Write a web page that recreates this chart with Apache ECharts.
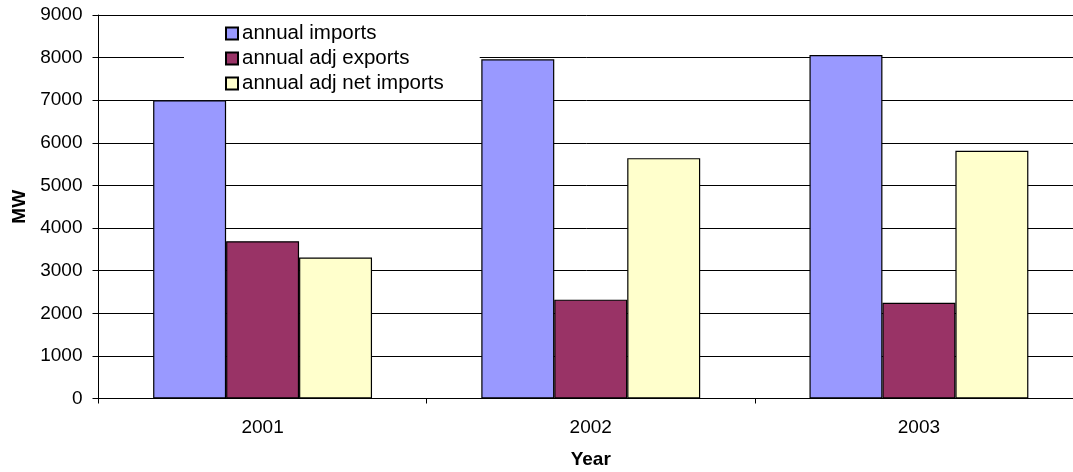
<!DOCTYPE html>
<html>
<head>
<meta charset="utf-8">
<script src="https://cdn.jsdelivr.net/npm/echarts@6/dist/echarts.min.js"></script>
<style>
  html, body { margin: 0; padding: 0; background: #fff; }
  #chart { width: 1073px; height: 472px; }
</style>
</head>
<body>
<div id="chart"></div>
<script>
// Annual interchange by year (MW)
const years = ['2001', '2002', '2003'];
const annualImports = [7000, 7960, 8060];
const annualAdjExports = [3690, 2320, 2245];
const annualAdjNetImports = [3310, 5640, 5815];
const yTicks = { min: 0, max: 9000, step: 1000 };

const FONT = '"Liberation Sans", Arial, sans-serif';
const chart = echarts.init(document.getElementById('chart'), null, { renderer: 'canvas' });

const barStyle = color => ({ color: color, borderColor: '#000', borderWidth: 1.2 });

chart.setOption({
  animation: false,
  backgroundColor: '#fff',
  textStyle: { fontFamily: FONT, color: '#000' },
  grid: { left: 98.5, right: -10, top: 15, bottom: 73.5, outerBoundsMode: 'none', containLabel: false },
  legend: {
    orient: 'vertical',
    left: 184,
    top: 17,
    padding: [6, 36, 5, 41],
    backgroundColor: '#fff',
    icon: 'rect',
    itemWidth: 12,
    itemHeight: 12,
    itemGap: 4,
    textStyle: { fontFamily: FONT, fontSize: 20.5, color: '#000', padding: [0, 0, 0, -1] },
    data: ['annual imports', 'annual adj exports', 'annual adj net imports']
  },
  xAxis: {
    type: 'category',
    data: years,
    name: 'Year',
    nameLocation: 'middle',
    nameGap: 52,
    nameTextStyle: { fontFamily: FONT, fontSize: 19, fontWeight: 'bold', color: '#000' },
    axisLine: { lineStyle: { color: '#000', width: 1 } },
    axisTick: { show: true, length: 5, lineStyle: { color: '#000' } },
    axisLabel: { fontFamily: FONT, fontSize: 19, color: '#000', margin: 20 },
    splitLine: { show: false }
  },
  yAxis: {
    type: 'value',
    min: yTicks.min,
    max: yTicks.max,
    interval: yTicks.step,
    name: 'MW',
    nameLocation: 'middle',
    nameRotate: 90,
    nameGap: 69,
    nameTextStyle: { fontFamily: FONT, fontSize: 19, fontWeight: 'bold', color: '#000' },
    axisLine: { show: true, lineStyle: { color: '#000', width: 1 } },
    axisTick: { show: true, length: 6, lineStyle: { color: '#000' } },
    axisLabel: { fontFamily: FONT, fontSize: 19, color: '#000', margin: 16, formatter: v => String(v) },
    splitLine: { show: true, lineStyle: { color: '#000', width: 1 } }
  },
  series: [
    { name: 'annual imports', type: 'bar', data: annualImports, itemStyle: barStyle('#9999FF'), barGap: '0%', barCategoryGap: '33.3%' },
    { name: 'annual adj exports', type: 'bar', data: annualAdjExports, itemStyle: barStyle('#993366') },
    { name: 'annual adj net imports', type: 'bar', data: annualAdjNetImports, itemStyle: barStyle('#FFFFCC') }
  ]
});
</script>
</body>
</html>
